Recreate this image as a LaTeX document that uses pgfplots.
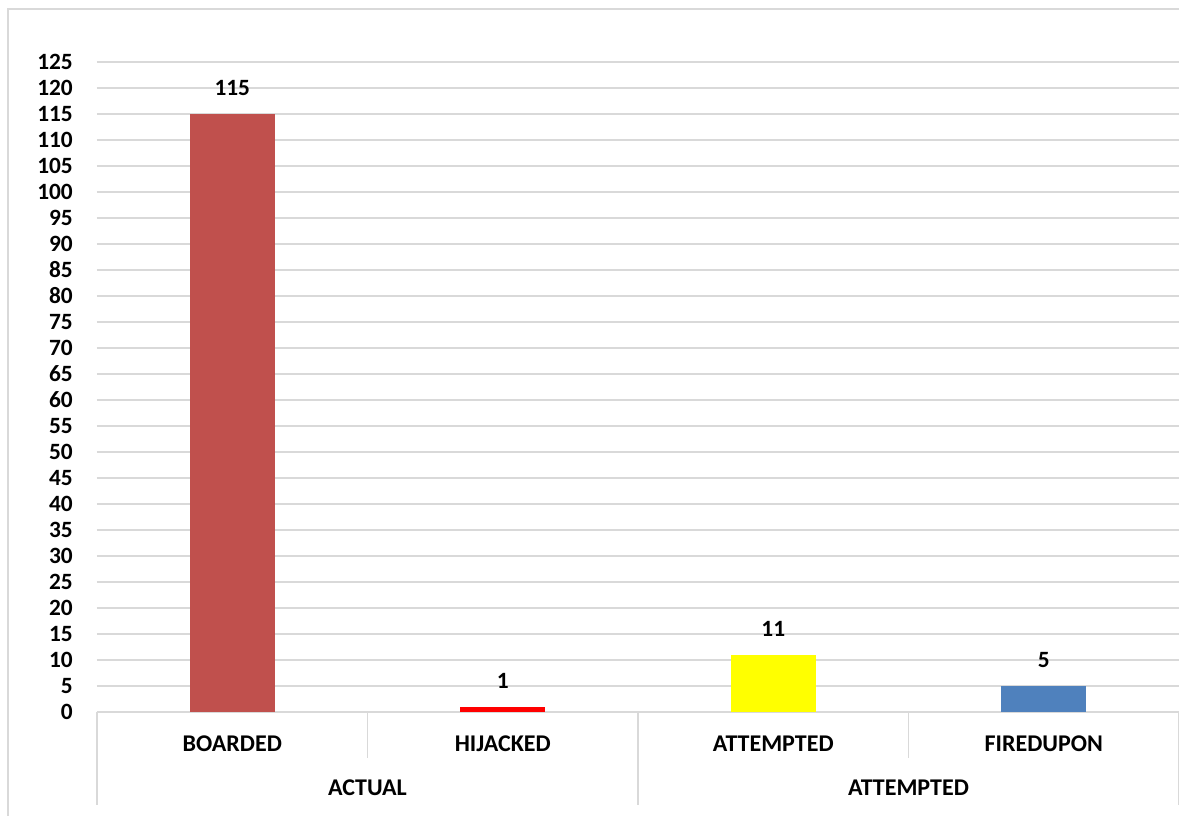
\documentclass[border=0pt]{standalone}
\usepackage{pgfplots}
\pgfplotsset{compat=1.18}
\usepackage{fontspec}
\setmainfont{Carlito}[BoldFont={Carlito Bold}]
\definecolor{gridc}{HTML}{D9D9D9}
\definecolor{cboard}{HTML}{C0504D}
\definecolor{chij}{HTML}{FF0000}
\definecolor{catt}{HTML}{FFFF00}
\definecolor{cfire}{HTML}{4F81BD}
\newcommand{\lbl}{\fontsize{17.5}{21}\selectfont\bfseries}
\newcommand{\catlbl}{\fontsize{18}{21}\selectfont\bfseries}
\begin{document}
\begin{tikzpicture}
\useasboundingbox (0,0) rectangle (884.25pt,612pt);
\draw[gridc, line width=1pt] (6pt,0) -- (6pt,605.25pt) -- (884.25pt,605.25pt);
\begin{axis}[
  at={(72.75pt,78pt)}, anchor=south west, scale only axis,
  width=811.5pt, height=487.5pt,
  xmin=-0.5, xmax=3.5, ymin=0, ymax=125,
  ytick={0,5,...,125},
  xtick={0,1,2,3},
  xticklabels={BOARDED,HIJACKED,ATTEMPTED,FIREDUPON},
  ybar, bar width=0.314,
  axis line style={draw=none},
  tick style={draw=none},
  ymajorgrids, major grid style={gridc, line width=1pt},
  yticklabel style={font=\lbl, anchor=east, inner sep=0pt, xshift=-18pt},
  xticklabel style={font=\catlbl, anchor=base, inner sep=0pt, yshift=-25.3pt},
  nodes near coords,
  nodes near coords style={font=\lbl, anchor=base, inner sep=0pt, yshift=13.5pt, text=black},
  /pgf/number format/assume math mode=true,
  clip=false,
]
\addplot[fill=cboard, draw=none, bar shift=0pt] coordinates {(0,115)};
\addplot[fill=chij, draw=none, bar shift=0pt] coordinates {(1,1)};
\addplot[fill=catt, draw=none, bar shift=0pt] coordinates {(2,11)};
\addplot[fill=cfire, draw=none, bar shift=0pt] coordinates {(3,5)};
\draw[gridc, line width=1pt] (axis cs:-0.5,0) -- ([yshift=-69.75pt]axis cs:-0.5,0);
\draw[gridc, line width=1pt] (axis cs:0.5,0) -- ([yshift=-34.5pt]axis cs:0.5,0);
\draw[gridc, line width=1pt] (axis cs:1.5,0) -- ([yshift=-69.75pt]axis cs:1.5,0);
\draw[gridc, line width=1pt] (axis cs:2.5,0) -- ([yshift=-34.5pt]axis cs:2.5,0);
\draw[gridc, line width=1pt] (axis cs:3.5,0) -- ([yshift=-69.75pt]axis cs:3.5,0);
\node[anchor=base, inner sep=0pt, font=\catlbl] at ([yshift=-63pt]axis cs:0.5,0) {ACTUAL};
\node[anchor=base, inner sep=0pt, font=\catlbl] at ([yshift=-63pt]axis cs:2.5,0) {ATTEMPTED};
\end{axis}
\end{tikzpicture}
\end{document}
